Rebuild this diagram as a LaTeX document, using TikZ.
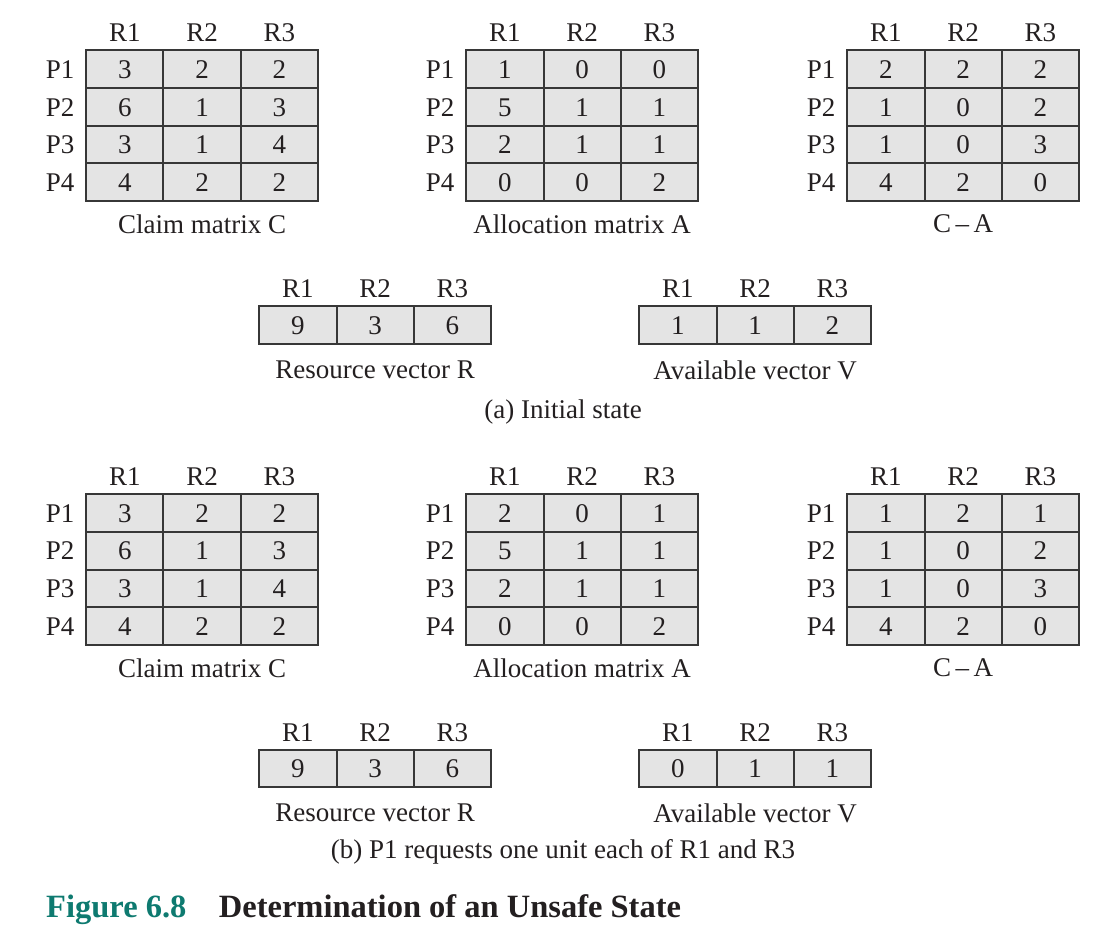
\documentclass[tikz,border=0pt]{standalone}
\usepackage{fontspec}
\setmainfont{Liberation Serif}
\usepackage{tikz}
\usetikzlibrary{matrix}
\usetikzlibrary{positioning}
\definecolor{cellgray}{RGB}{228,228,228}
\definecolor{boxline}{RGB}{55,55,55}
\definecolor{ink}{RGB}{35,31,32}
\definecolor{figteal}{RGB}{14,122,112}
\tikzset{
  cellnode/.style = {draw=boxline, fill=cellgray, line width=2pt, text=ink,
    minimum width=77.3pt, minimum height=37.6pt, inner sep=0pt,
    text height=18.3pt, text depth=0pt, anchor=center,
    font=\fontsize{27}{32}\selectfont},
  vec_n/.style = {matrix of nodes, nodes={cellnode}, inner sep=0pt,
    column sep=-2pt, row sep=-2pt, anchor=north west,
    row 1/.style={nodes={draw=none, fill=none}}},
  mat_n/.style = {vec_n,
    column 1/.style={nodes={draw=none, fill=none, minimum width=54pt}}},
  cap_n/.style = {text=ink, inner sep=0pt, font=\fontsize{27}{32}\selectfont}
}

\begin{document}
\begin{tikzpicture}[x=1pt,y=-1pt]
\useasboundingbox (0,0) rectangle (1114,952);

% (a) initial state
\matrix[mat_n] (claimA) at (33,13.7) {
    & R1 & R2 & R3 \\
 P1 & 3 & 2 & 2 \\
 P2 & 6 & 1 & 3 \\
 P3 & 3 & 1 & 4 \\
 P4 & 4 & 2 & 2 \\
};
\matrix[mat_n] (allocA) at (413,13.7) {
    & R1 & R2 & R3 \\
 P1 & 1 & 0 & 0 \\
 P2 & 5 & 1 & 1 \\
 P3 & 2 & 1 & 1 \\
 P4 & 0 & 0 & 2 \\
};
\matrix[mat_n] (needA) at (794,13.7) {
    & R1 & R2 & R3 \\
 P1 & 2 & 2 & 2 \\
 P2 & 1 & 0 & 2 \\
 P3 & 1 & 0 & 3 \\
 P4 & 4 & 2 & 0 \\
};
\node[cap_n, below=13pt of claimA-5-3] (claimAcap) {Claim matrix C};
\node[cap_n, below=13pt of allocA-5-3] (allocAcap) {Allocation matrix A};
\node[cap_n, below=13pt of needA-5-3] (needAcap) {C\,--\,A};

\matrix[vec_n] (resA) at (258,269.3) {
 R1 & R2 & R3 \\
 9 & 3 & 6 \\
};
\matrix[vec_n] (availA) at (638,269.3) {
 R1 & R2 & R3 \\
 1 & 1 & 2 \\
};
\node[cap_n, below=16pt of resA-2-2] (resAcap) {Resource vector R};
\node[cap_n, below=16pt of availA-2-2] (availAcap) {Available vector V};
\node[cap_n, anchor=base] (stateA) at (563,418.3) {(a) Initial state};

% (b) P1 requests
\matrix[mat_n] (claimB) at (33,457.5) {
    & R1 & R2 & R3 \\
 P1 & 3 & 2 & 2 \\
 P2 & 6 & 1 & 3 \\
 P3 & 3 & 1 & 4 \\
 P4 & 4 & 2 & 2 \\
};
\matrix[mat_n] (allocB) at (413,457.5) {
    & R1 & R2 & R3 \\
 P1 & 2 & 0 & 1 \\
 P2 & 5 & 1 & 1 \\
 P3 & 2 & 1 & 1 \\
 P4 & 0 & 0 & 2 \\
};
\matrix[mat_n] (needB) at (794,457.5) {
    & R1 & R2 & R3 \\
 P1 & 1 & 2 & 1 \\
 P2 & 1 & 0 & 2 \\
 P3 & 1 & 0 & 3 \\
 P4 & 4 & 2 & 0 \\
};
\node[cap_n, below=13pt of claimB-5-3] (claimBcap) {Claim matrix C};
\node[cap_n, below=13pt of allocB-5-3] (allocBcap) {Allocation matrix A};
\node[cap_n, below=13pt of needB-5-3] (needBcap) {C\,--\,A};

\matrix[vec_n] (resB) at (258,712.9) {
 R1 & R2 & R3 \\
 9 & 3 & 6 \\
};
\matrix[vec_n] (availB) at (638,712.9) {
 R1 & R2 & R3 \\
 0 & 1 & 1 \\
};
\node[cap_n, below=15pt of resB-2-2] (resBcap) {Resource vector R};
\node[cap_n, below=15pt of availB-2-2] (availBcap) {Available vector V};
\node[cap_n, anchor=base] (stateB) at (563,858.3) {(b) P1 requests one unit each of R1 and R3};

\node[anchor=base west, inner sep=0pt, text=ink, font=\fontsize{32.5}{38}\selectfont\bfseries]
  (figcap) at (46,917.7) {\textcolor{figteal}{Figure 6.8}\quad Determination of an Unsafe State};
\end{tikzpicture}
\end{document}
